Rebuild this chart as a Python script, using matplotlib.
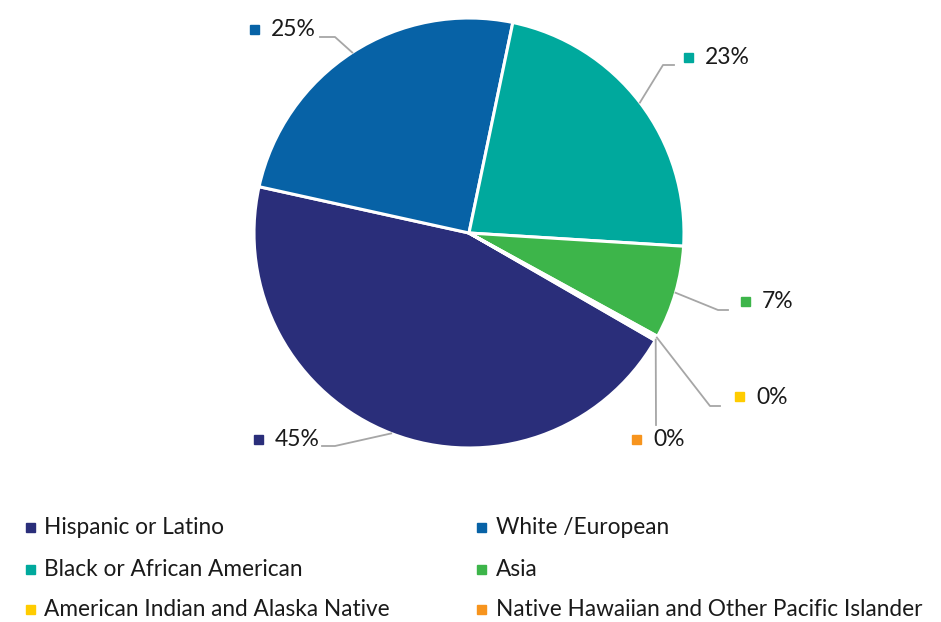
import matplotlib.pyplot as plt
from matplotlib.patches import Rectangle
from matplotlib.lines import Line2D
import numpy as np

plt.rcParams['font.family'] = ['Lato', 'DejaVu Sans']

# data
groups = ["Hispanic or Latino", "White /European", "Black or African American",
          "Asia", "American Indian and Alaska Native",
          "Native Hawaiian and Other Pacific Islander"]
shares = [45.1, 24.8, 22.7, 7.0, 0.2, 0.15]
pct_labels = ["45%", "25%", "23%", "7%", "0%", "0%"]
colors = ["#2a2e7a", "#0762a6", "#00a99d", "#3db54a", "#ffcc00", "#f7941d"]

W, H = 941, 622
fig = plt.figure(figsize=(W / 100, H / 100), dpi=100)


def px(x, y):
    # pixel (from top-left) -> figure fraction
    return x / W, 1 - y / H


# pie axes: circle centre ~(469,233), radius ~215
ax = fig.add_axes([254 / W, 1 - 448 / H, 430 / W, 430 / H])
wedges, _ = ax.pie(shares, colors=colors, startangle=90 - 120, counterclock=False,
                   radius=1, wedgeprops=dict(edgecolor="white", linewidth=2.2))
ax.set_xlim(-1, 1)
ax.set_ylim(-1, 1)
ax.set_aspect("equal")
ax.axis("off")

# label layout: marker x, text y, elbow, line end near label
layout = [
    dict(mx=258, ty=440, elbow=(335, 446), end=(322, 446)),
    dict(mx=254, ty=30, elbow=(335, 37), end=(320, 37)),
    dict(mx=688, ty=58, elbow=(663, 65), end=(674, 65)),
    dict(mx=745, ty=302, elbow=(718, 310), end=(728, 310)),
    dict(mx=739, ty=397, elbow=(710, 406), end=(720, 406)),
    dict(mx=636, ty=440, elbow=None, end=(656, 425)),
]

to_fig = ax.transData + fig.transFigure.inverted()
grey = "#a6a6a6"
for w, lab, col, lay in zip(wedges, pct_labels, colors, layout):
    ang = np.deg2rad((w.theta1 + w.theta2) / 2)
    ex, ey = to_fig.transform((np.cos(ang), np.sin(ang)))
    pts = [(ex, ey)]
    if lay["elbow"] is not None:
        pts.append(px(*lay["elbow"]))
    pts.append(px(*lay["end"]))
    xs, ys = zip(*pts)
    fig.add_artist(Line2D(xs, ys, color=grey, lw=1.3, transform=fig.transFigure))
    s = 9
    x0, y0 = px(lay["mx"] - s / 2, lay["ty"] + s / 2 - 1)
    fig.add_artist(Rectangle((x0, y0), s / W, s / H, color=col, transform=fig.transFigure))
    tx, ty = px(lay["mx"] + 17, lay["ty"])
    fig.text(tx, ty, lab, fontsize=16.5, color="#1a1a1a", va="center", ha="left")

# legend, laid out like the source: two columns, three rows
col_x = [30, 482]
row_y = [527, 569, 609]
for k in range(len(groups)):
    mx = col_x[k % 2]
    ly = row_y[k // 2]
    s = 9
    x0, y0 = px(mx - s / 2, ly + s / 2)
    fig.add_artist(Rectangle((x0, y0), s / W, s / H, color=colors[k], transform=fig.transFigure))
    tx, ty = px(mx + 14, ly)
    fig.text(tx, ty, groups[k], fontsize=16.3, color="#1a1a1a", va="center", ha="left")

fig.savefig("out.png", dpi=100)
